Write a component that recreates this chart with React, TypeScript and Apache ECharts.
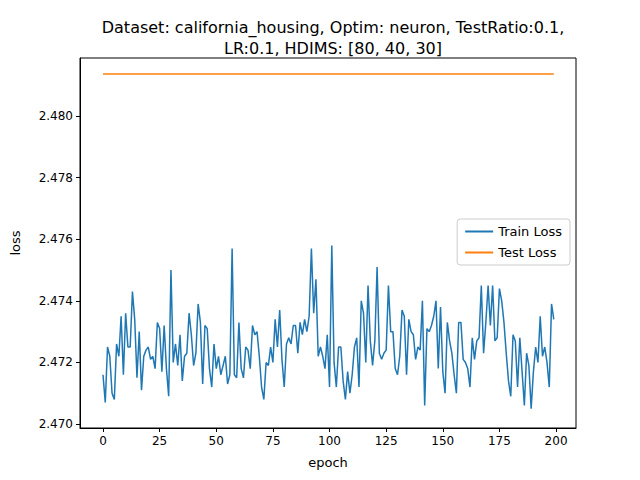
import React, { useEffect, useRef } from "react";
import * as echarts from "echarts";

const epochs: number[] = Array.from({ length: 200 }, (_, i) => i);
const trainLoss: number[] = [
  2.4716, 2.4707, 2.4725, 2.4722, 2.471, 2.4708, 2.4726, 2.4722, 2.4735, 2.4716,
  2.4736, 2.4725, 2.4725, 2.4743, 2.4734, 2.4715, 2.473, 2.4711, 2.4722, 2.4724,
  2.4725, 2.4721, 2.4722, 2.4718, 2.4733, 2.4731, 2.4717, 2.4732, 2.4718, 2.4709,
  2.475, 2.472, 2.4726, 2.4719, 2.4729, 2.4714, 2.4722, 2.4723, 2.4736, 2.4729,
  2.4719, 2.4723, 2.4739, 2.4733, 2.4713, 2.4732, 2.4731, 2.4718, 2.4712, 2.4726,
  2.4718, 2.4722, 2.4716, 2.4719, 2.4722, 2.4713, 2.4716, 2.4757, 2.4716, 2.4715,
  2.4733, 2.4718, 2.4715, 2.4725, 2.4724, 2.4718, 2.4732, 2.4729, 2.473, 2.4722,
  2.4712, 2.4708, 2.472, 2.4719, 2.4725, 2.472, 2.4734, 2.4725, 2.4737, 2.4721,
  2.4712, 2.4726, 2.4728, 2.4726, 2.4732, 2.4732, 2.4723, 2.4733, 2.4729, 2.4734,
  2.473, 2.4735, 2.4757, 2.4736, 2.4747, 2.4722, 2.4725, 2.4722, 2.4718, 2.4729,
  2.4712, 2.4758, 2.472, 2.4712, 2.4725, 2.4725, 2.4714, 2.4708, 2.4717, 2.471,
  2.4716, 2.4725, 2.4728, 2.4712, 2.474, 2.4736, 2.472, 2.4745, 2.4727, 2.4719,
  2.4727, 2.4751, 2.4723, 2.4721, 2.4723, 2.4724, 2.4745, 2.473, 2.473, 2.4718,
  2.4716, 2.4722, 2.4737, 2.4735, 2.4716, 2.4734, 2.473, 2.4729, 2.4721, 2.4725,
  2.4724, 2.474, 2.4706, 2.4731, 2.473, 2.4732, 2.4735, 2.474, 2.4718, 2.4738,
  2.4717, 2.471, 2.4733, 2.4727, 2.4723, 2.4716, 2.471, 2.4733, 2.4733, 2.4721,
  2.472, 2.4718, 2.4712, 2.4728, 2.4721, 2.4727, 2.4728, 2.4745, 2.4723, 2.4733,
  2.4745, 2.4732, 2.4745, 2.4727, 2.4728, 2.4744, 2.474, 2.4733, 2.4723, 2.4714,
  2.4709, 2.4729, 2.4727, 2.4712, 2.4728, 2.4717, 2.4706, 2.4723, 2.4719, 2.4705,
  2.4717, 2.4725, 2.472, 2.4735, 2.4722, 2.4725, 2.472, 2.4712, 2.4739, 2.4734,
];
const testLoss: number[] = epochs.map(() => 2.48137);
const xTicks: number[] = [0, 25, 50, 75, 100, 125, 150, 175, 200];
const yTicks: number[] = [2.47, 2.472, 2.474, 2.476, 2.478, 2.48];

export default function App() {
  const chartRef = useRef<HTMLDivElement>(null);

  useEffect(() => {
    if (!chartRef.current) return;
    const chart = echarts.init(chartRef.current, null, { renderer: "svg" });
    const font = "DejaVu Sans";
    chart.setOption({
      animation: false,
      textStyle: { fontFamily: font },
      title: {
        text: "Dataset: california_housing, Optim: neuron, TestRatio:0.1,\nLR:0.1, HDIMS: [80, 40, 30]",
        left: 328,
        textAlign: "center",
        top: 12,
        textStyle: { fontSize: 16, fontWeight: "normal", color: "#000", lineHeight: 21, fontFamily: font },
      },
      grid: { left: 80, right: 64, top: 58, bottom: 52, show: true, borderColor: "#000", borderWidth: 1 },
      legend: {
        orient: "vertical",
        right: 70,
        top: 219,
        backgroundColor: "#fff",
        borderColor: "#ccc",
        borderWidth: 1,
        borderRadius: 3,
        padding: [6, 8, 6, 8],
        itemWidth: 28,
        itemHeight: 2,
        itemGap: 8,
        icon: "rect",
        textStyle: { fontSize: 13, color: "#000", fontFamily: font },
        data: ["Train Loss", "Test Loss"],
      },
      xAxis: {
        type: "value",
        min: -10.15,
        max: 208.8,
        name: "epoch",
        nameLocation: "middle",
        nameGap: 28,
        nameTextStyle: { fontSize: 13, color: "#000" },
        axisLine: { show: true, onZero: false, lineStyle: { color: "#000" } },
        axisTick: { show: true, customValues: xTicks, length: 4, inside: false, lineStyle: { color: "#000" } },
        axisLabel: { customValues: xTicks, fontSize: 12, color: "#000", margin: 7 },
        splitLine: { show: false },
      },
      yAxis: {
        type: "value",
        min: 2.46987,
        max: 2.48189,
        name: "loss",
        nameLocation: "middle",
        nameGap: 58,
        nameTextStyle: { fontSize: 13, color: "#000" },
        axisLine: { show: true, onZero: false, lineStyle: { color: "#000" } },
        axisTick: { show: true, customValues: yTicks, length: 4, lineStyle: { color: "#000" } },
        axisLabel: {
          customValues: yTicks,
          fontSize: 12,
          color: "#000",
          margin: 7,
          formatter: (v: number) => v.toFixed(3),
        },
        splitLine: { show: false },
      },
      series: [
        {
          name: "Train Loss",
          type: "line",
          data: epochs.map((e, i) => [e, trainLoss[i]]),
          showSymbol: false,
          lineStyle: { color: "#1f77b4", width: 1.5 },
          itemStyle: { color: "#1f77b4" },
        },
        {
          name: "Test Loss",
          type: "line",
          data: epochs.map((e, i) => [e, testLoss[i]]),
          showSymbol: false,
          lineStyle: { color: "#ff7f0e", width: 1.5 },
          itemStyle: { color: "#ff7f0e" },
        },
      ],
    });
    return () => chart.dispose();
  }, []);

  return <div ref={chartRef} style={{ width: 640, height: 480, margin: -8 }} />;
}
